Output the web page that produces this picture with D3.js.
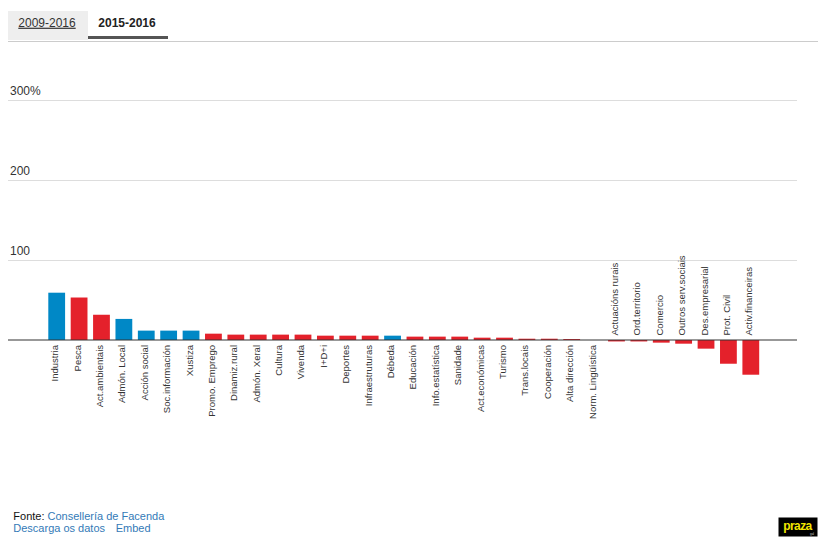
<!DOCTYPE html>
<html>
<head>
<meta charset="utf-8">
<script src="https://cdn.jsdelivr.net/npm/d3@7"></script>
<style>
  html, body { margin: 0; padding: 0; background: #fff; }
  svg { display: block; font-family: Arial, "Liberation Sans", sans-serif; }
</style>
</head>
<body>
<svg id="chart" width="826" height="549"></svg>
<script>
// ---- data ----
const categories = [
  "Industria", "Pesca", "Act.ambientais", "Admón. Local", "Acción social",
  "Soc.información", "Xustiza", "Promo. Emprego", "Dinamiz.rural", "Admón. Xeral",
  "Cultura", "Vivenda", "I+D+i", "Deportes", "Infraestruturas", "Débeda",
  "Educación", "Info.estatística", "Sanidade", "Act.económicas", "Turismo",
  "Trans.locais", "Cooperación", "Alta dirección", "Norm. Lingüística",
  "Actuacións rurais", "Ord.territorio", "Comercio", "Outros serv.sociais",
  "Des.empresarial", "Prot. Civil", "Activ.financeiras"
];
const values = [
  59, 53, 31.5, 26.3, 11.7,
  11.7, 11.7, 7.9, 6.7, 6.7,
  6.7, 6.7, 5.4, 5.4, 5.4, 5.4,
  4.2, 4.2, 4.2, 2.9, 2.9,
  1.6, 1.6, 1.2, 0,
  -1.8, -1.8, -3.3, -4.6,
  -10.8, -29.6, -43.3
];
const blueCategories = ["Industria", "Admón. Local", "Acción social", "Soc.información", "Xustiza", "Débeda"];
const yTicks = [100, 200, 300];
const tabs = ["2009-2016", "2015-2016"];

// ---- styles ----
const BLUE = "#0088c6", RED = "#e4212b";

const svg = d3.select("#chart");

// tabs
svg.append("rect").attr("x", 8).attr("y", 11).attr("width", 80).attr("height", 29).attr("fill", "#eeeeee");
svg.append("text").attr("x", 18.3).attr("y", 26.7).attr("font-size", 12).attr("fill", "#333")
  .attr("text-decoration", "underline").text(tabs[0]);
svg.append("text").attr("x", 98.3).attr("y", 26.7).attr("font-size", 12).attr("font-weight", "bold")
  .attr("fill", "#222").text(tabs[1]);
svg.append("rect").attr("x", 88).attr("y", 36).attr("width", 80).attr("height", 3).attr("fill", "#555");
svg.append("line").attr("x1", 8).attr("x2", 818).attr("y1", 41.5).attr("y2", 41.5)
  .attr("stroke", "#cccccc").attr("stroke-width", 1);

// scales
const y = d3.scaleLinear().domain([0, 300]).range([340, 99.5]);
const x = d3.scaleBand().domain(categories).range([45.5, 762]).paddingInner(0.25).paddingOuter(0.125);

// y grid + labels
const gridW = 789;
const yAxis = svg.append("g").attr("transform", "translate(8,0)")
  .call(d3.axisRight(y).tickValues(yTicks).tickSize(gridW).tickFormat(d => d === 300 ? d + "%" : d));
yAxis.select(".domain").remove();
yAxis.selectAll(".tick line").attr("stroke", "#dddddd").attr("shape-rendering", "crispEdges");
yAxis.selectAll(".tick text").attr("x", 2).attr("y", -5).attr("dy", 0)
  .attr("text-anchor", "start").attr("font-size", 12).attr("fill", "#333")
  .attr("font-family", "Arial, 'Liberation Sans', sans-serif");

// bars
const data = categories.map((c, i) => ({ c, v: values[i] }));
svg.append("g").selectAll("rect").data(data).join("rect")
  .attr("x", d => x(d.c))
  .attr("width", x.bandwidth())
  .attr("y", d => y(Math.max(0, d.v)))
  .attr("height", d => Math.abs(y(d.v) - y(0)))
  .attr("fill", d => blueCategories.includes(d.c) ? BLUE : RED);

// zero line
svg.append("line").attr("x1", 8).attr("x2", 8 + gridW).attr("y1", y(0)).attr("y2", y(0))
  .attr("stroke", "#333").attr("stroke-width", 1.2);

// category labels
svg.append("g").selectAll("text").data(data).join("text")
  .attr("transform", d => {
    const cx = x(d.c) + x.bandwidth() / 2 + 1.5;
    return d.v >= 0 ? `translate(${cx},345) rotate(-90)` : `translate(${cx},335.5) rotate(-90)`;
  })
  .attr("text-anchor", d => d.v >= 0 ? "end" : "start")
  .attr("font-size", 9.5)
  .attr("fill", "#333")
  .text(d => d.c);

// footer
const f1 = svg.append("text").attr("x", 13.3).attr("y", 520).attr("font-size", 11).attr("fill", "#111");
f1.append("tspan").text("Fonte: ");
f1.append("tspan").attr("fill", "#337ab7").text("Consellería de Facenda");
svg.append("text").attr("x", 13.3).attr("y", 531.5).attr("font-size", 11).attr("fill", "#337ab7").text("Descarga os datos");
svg.append("text").attr("x", 115.7).attr("y", 531.5).attr("font-size", 11).attr("fill", "#337ab7").text("Embed");

// logo
svg.append("rect").attr("x", 778.5).attr("y", 517.5).attr("width", 39).attr("height", 19).attr("fill", "#000");
svg.append("text").attr("x", 797.5).attr("y", 530).attr("text-anchor", "middle").attr("font-size", 12)
  .attr("font-weight", "bold").attr("fill", "#f2e600").attr("letter-spacing", -0.6).text("praza");
svg.append("text").attr("x", 814).attr("y", 534.5).attr("text-anchor", "end").attr("font-size", 3)
  .attr("fill", "#ccc").text("gal");
</script>
</body>
</html>
